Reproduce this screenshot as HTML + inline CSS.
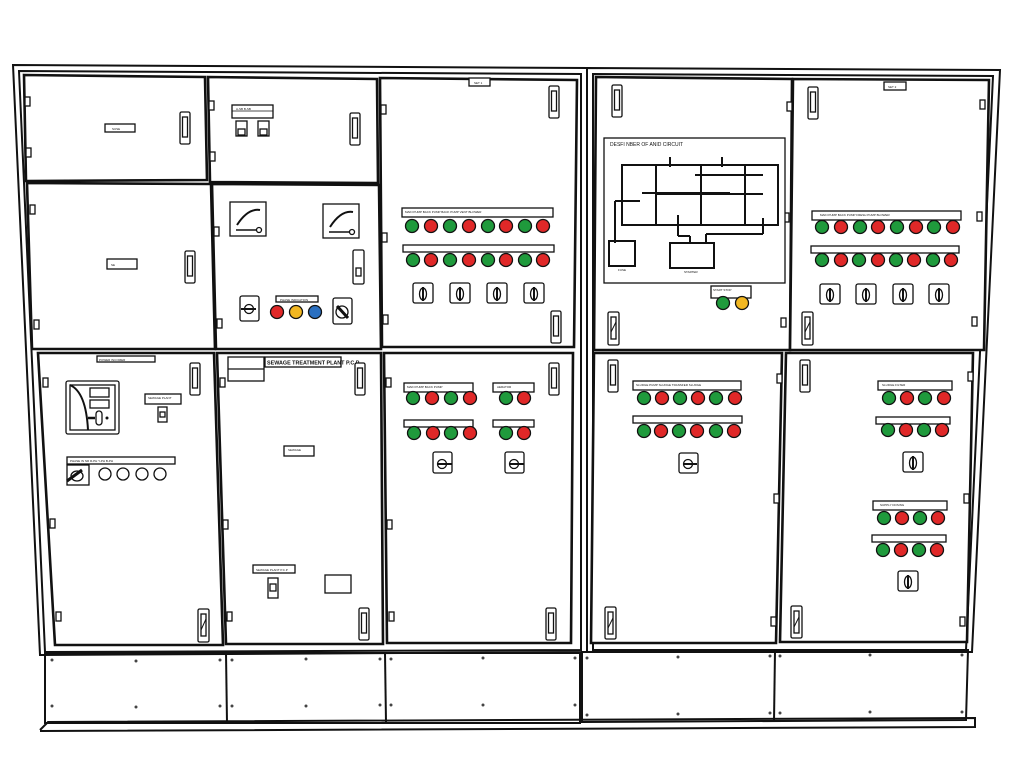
<!DOCTYPE html>
<html><head><meta charset="utf-8"><style>
html,body{margin:0;padding:0;background:#fff}
svg{display:block}
.k{fill:none;stroke:#111;stroke-width:2}
.d{fill:#fff;stroke:#111;stroke-width:2.6}
.t{fill:#fff;stroke:#111;stroke-width:1.3}
.g{fill:#1f9a3c;stroke:#111;stroke-width:1.3}
.r{fill:#e02828;stroke:#111;stroke-width:1.3}
.y{fill:#f2b721;stroke:#111;stroke-width:1.3}
.b{fill:#2a6fc0;stroke:#111;stroke-width:1.3}
.w{fill:#fff;stroke:#111;stroke-width:1.3}
text{font-family:"Liberation Sans",sans-serif;font-size:3px;fill:#111}
</style></head><body>
<svg width="1024" height="765" viewBox="0 0 1024 765" xmlns="http://www.w3.org/2000/svg">
<defs>
<g id="h"><rect x="0" y="0" width="10" height="32" rx="1.5" class="t" stroke-width="1.6"/><rect x="2.5" y="5" width="5" height="20" class="t"/></g>
<g id="sw"><rect x="0" y="0" width="20" height="20" rx="2" class="t" stroke-width="1.6"/><ellipse cx="10" cy="11" rx="3.5" ry="6" class="t" stroke-width="1.6"/><line x1="10" y1="4" x2="10" y2="18" stroke="#111" stroke-width="2"/></g>
<g id="hg"><rect x="0" y="0" width="5" height="9" class="t" stroke-width="1.6"/></g>
</defs>

<polygon points="13,65 587,68 587,652 40,655" class="k" stroke-width="2.2"/>
<polygon points="19,71 581,74 581,650 45,652" class="k" stroke-width="1.4"/>
<polygon points="587,68 1000,70 972,652 587,652" class="k" stroke-width="2.2"/>
<polygon points="593,74 993,76 966,650 593,650" class="k" stroke-width="1.4"/>

<rect x="45" y="653" width="535" height="70" class="k" stroke-width="2"/>
<line x1="226" y1="653" x2="227" y2="723" class="k" stroke-width="1.4"/>
<line x1="385" y1="653" x2="386" y2="723" class="k" stroke-width="1.4"/>
<polygon points="582,652 968,650 966,720 582,722" class="k" stroke-width="2"/>
<line x1="775" y1="651" x2="774" y2="721" class="k" stroke-width="1.4"/>
<polyline points="40,730 48,722 975,718 975,727 40,731" class="k" stroke-width="2"/>
<g fill="#444">
<circle cx="52" cy="706" r="1.5"/><circle cx="136" cy="707" r="1.5"/><circle cx="220" cy="706" r="1.5"/>
<circle cx="232" cy="706" r="1.5"/><circle cx="306" cy="706" r="1.5"/><circle cx="380" cy="705" r="1.5"/>
<circle cx="391" cy="705" r="1.5"/><circle cx="483" cy="705" r="1.5"/><circle cx="575" cy="705" r="1.5"/>
<circle cx="587" cy="715" r="1.5"/><circle cx="678" cy="714" r="1.5"/><circle cx="770" cy="713" r="1.5"/>
<circle cx="780" cy="713" r="1.5"/><circle cx="870" cy="712" r="1.5"/><circle cx="962" cy="712" r="1.5"/>
<circle cx="52" cy="660" r="1.5"/><circle cx="136" cy="661" r="1.5"/><circle cx="220" cy="660" r="1.5"/>
<circle cx="232" cy="660" r="1.5"/><circle cx="306" cy="659" r="1.5"/><circle cx="380" cy="659" r="1.5"/>
<circle cx="391" cy="659" r="1.5"/><circle cx="483" cy="658" r="1.5"/><circle cx="575" cy="658" r="1.5"/>
<circle cx="587" cy="658" r="1.5"/><circle cx="678" cy="657" r="1.5"/><circle cx="770" cy="656" r="1.5"/>
<circle cx="780" cy="656" r="1.5"/><circle cx="870" cy="655" r="1.5"/><circle cx="962" cy="655" r="1.5"/>
</g>

<polygon points="24,75 205,77 207,180 26,181" class="d"/>
<polygon points="208,77 377,79 378,183 210,182" class="d"/>
<polygon points="380,78 577,80 574,347 382,347" class="d"/>
<polygon points="27,183 211,184 215,349 32,349" class="d"/>
<polygon points="212,184 379,185 381,349 216,349" class="d"/>
<polygon points="38,353 214,353 223,645 55,645" class="d"/>
<polygon points="217,353 381,353 383,644 226,644" class="d"/>
<polygon points="384,353 573,353 571,643 387,643" class="d"/>
<polygon points="596,77 792,79 790,350 594,350" class="d"/>
<polygon points="793,79 989,80 984,350 790,350" class="d"/>
<polygon points="594,353 782,353 776,643 591,643" class="d"/>
<polygon points="786,353 973,353 967,642 780,642" class="d"/>

<use href="#hg" x="25" y="97"/><use href="#hg" x="26" y="148"/>
<use href="#hg" x="209" y="101"/><use href="#hg" x="210" y="152"/>
<use href="#hg" x="30" y="205"/><use href="#hg" x="34" y="320"/>
<use href="#hg" x="214" y="227"/><use href="#hg" x="217" y="319"/>
<use href="#hg" x="381" y="105"/><use href="#hg" x="382" y="233"/><use href="#hg" x="383" y="315"/>
<use href="#hg" x="43" y="378"/><use href="#hg" x="50" y="519"/>
<use href="#hg" x="56" y="612"/>
<use href="#hg" x="220" y="378"/><use href="#hg" x="223" y="520"/><use href="#hg" x="227" y="612"/>
<use href="#hg" x="386" y="378"/><use href="#hg" x="387" y="520"/><use href="#hg" x="389" y="612"/>
<use href="#hg" x="787" y="102"/><use href="#hg" x="784" y="213"/><use href="#hg" x="781" y="318"/>
<use href="#hg" x="980" y="100"/><use href="#hg" x="977" y="212"/><use href="#hg" x="972" y="317"/>
<use href="#hg" x="777" y="374"/><use href="#hg" x="774" y="494"/><use href="#hg" x="771" y="617"/>
<use href="#hg" x="968" y="372"/><use href="#hg" x="964" y="494"/><use href="#hg" x="960" y="617"/>

<rect x="105" y="124" width="30" height="8" class="t"/><text x="112" y="130">SUSE</text>
<use href="#h" x="180" y="112"/>
<rect x="232" y="105" width="41" height="13" class="t"/><line x1="232" y1="111" x2="273" y2="111" stroke="#111" stroke-width=".8"/>
<text x="236" y="110">A-SB  B-SB</text>
<rect x="236" y="121" width="11" height="15" class="t"/><rect x="238" y="129" width="7" height="6" class="t"/>
<rect x="258" y="121" width="11" height="15" class="t"/><rect x="260" y="129" width="7" height="6" class="t"/>
<use href="#h" x="350" y="113"/>
<rect x="469" y="78" width="21" height="8" class="t"/><text x="474" y="84">SET 1</text>
<use href="#h" x="549" y="86"/>
<rect x="402" y="208" width="151" height="9" class="t"/>
<text x="405" y="213">MAIN PUMP   BACK PUMP   BACK PUMP   VENT BLOWER</text>
<circle cx="412" cy="226" r="6.5" class="g"/><circle cx="431" cy="226" r="6.5" class="r"/><circle cx="450" cy="226" r="6.5" class="g"/><circle cx="469" cy="226" r="6.5" class="r"/><circle cx="488" cy="226" r="6.5" class="g"/><circle cx="506" cy="226" r="6.5" class="r"/><circle cx="525" cy="226" r="6.5" class="g"/><circle cx="543" cy="226" r="6.5" class="r"/>
<rect x="403" y="245" width="151" height="7" class="t"/>
<circle cx="413" cy="260" r="6.5" class="g"/><circle cx="431" cy="260" r="6.5" class="r"/><circle cx="450" cy="260" r="6.5" class="g"/><circle cx="469" cy="260" r="6.5" class="r"/><circle cx="488" cy="260" r="6.5" class="g"/><circle cx="506" cy="260" r="6.5" class="r"/><circle cx="525" cy="260" r="6.5" class="g"/><circle cx="543" cy="260" r="6.5" class="r"/>
<use href="#sw" x="413" y="283"/><use href="#sw" x="450" y="283"/><use href="#sw" x="487" y="283"/><use href="#sw" x="524" y="283"/>
<use href="#h" x="551" y="311"/>
<rect x="107" y="259" width="30" height="10" class="t"/><text x="111" y="266">SE</text>
<use href="#h" x="185" y="251"/>
<rect x="230" y="202" width="36" height="34" class="t" stroke-width="2"/>
<path d="M237,225 Q248,208 260,210" class="k" stroke-width=".8"/><line x1="236" y1="230" x2="257" y2="230" stroke="#111" stroke-width="1.5"/><circle cx="259" cy="230" r="2.5" class="w"/>
<rect x="323" y="204" width="36" height="34" class="t" stroke-width="2"/>
<path d="M330,227 Q341,210 353,212" class="k" stroke-width=".8"/><line x1="329" y1="232" x2="350" y2="232" stroke="#111" stroke-width="1.5"/><circle cx="352" cy="232" r="2.5" class="w"/>
<rect x="353" y="250" width="11" height="34" rx="1.5" class="t" stroke-width="1.6"/><rect x="356" y="268" width="5" height="8" class="t"/>
<rect x="240" y="296" width="19" height="25" rx="2" class="t" stroke-width="1.6"/><circle cx="249" cy="309" r="4.5" class="t" stroke-width="1.6"/><line x1="241" y1="309" x2="256" y2="309" stroke="#111" stroke-width="2"/>
<rect x="276" y="296" width="42" height="6" class="t"/><text x="280" y="301">PHASE INDICATION</text>
<circle cx="277" cy="312" r="6.5" class="r"/><circle cx="296" cy="312" r="6.5" class="y"/><circle cx="315" cy="312" r="6.5" class="b"/>
<rect x="333" y="298" width="19" height="26" rx="2" class="t" stroke-width="1.6"/><circle cx="342" cy="312" r="6" class="t"/><line x1="337" y1="306" x2="348" y2="318" stroke="#111" stroke-width="3"/>
<rect x="97" y="356" width="58" height="6" class="t"/><text x="99" y="361">POWER INCOMER</text>
<rect x="66" y="381" width="53" height="53" rx="2" class="t" stroke-width="2"/><rect x="70" y="385" width="45" height="45" class="t"/>
<path d="M70,385 Q86,392 88,430" class="k" stroke-width="1.3"/>
<rect x="90" y="388" width="19" height="9" class="t"/><rect x="90" y="400" width="19" height="8" class="t"/>
<rect x="96" y="411" width="6" height="14" rx="3" class="t" stroke-width="1.5"/><line x1="88" y1="418" x2="95" y2="418" stroke="#111" stroke-width="2.5"/><circle cx="107" cy="418" r="1.5" fill="#111"/>
<rect x="145" y="394" width="36" height="10" class="t"/><text x="148" y="399">SEWAGE PLANT</text>
<rect x="158" y="407" width="9" height="15" class="t"/><rect x="160" y="412" width="5" height="5" class="t"/>
<use href="#h" x="190" y="363"/>
<rect x="67" y="457" width="108" height="7" class="t"/><text x="70" y="462">PHASE IN  NR    R-PH    Y-PH    B-PH</text>
<rect x="67" y="465" width="22" height="20" class="t"/><ellipse cx="77" cy="476" rx="6" ry="5" class="t" stroke-width="1.6"/><line x1="67" y1="481" x2="82" y2="470" stroke="#111" stroke-width="3"/>
<circle cx="105" cy="474" r="6" class="w"/><circle cx="123" cy="474" r="6" class="w"/><circle cx="142" cy="474" r="6" class="w"/><circle cx="160" cy="474" r="6" class="w"/>
<rect x="198" y="609" width="11" height="33" rx="1.5" class="t" stroke-width="1.6"/><rect x="201" y="614" width="5" height="22" class="t"/><line x1="201" y1="630" x2="206" y2="619" stroke="#111"/>
<rect x="228" y="357" width="36" height="24" class="t"/><line x1="228" y1="369" x2="264" y2="369" stroke="#111" stroke-width="1.2"/>
<rect x="265" y="357" width="76" height="10" class="t"/><text x="267" y="364.5" style="font-size:5.4px;font-weight:bold">SEWAGE TREATMENT PLANT P.C.P.</text>
<rect x="284" y="446" width="30" height="10" class="t"/><text x="288" y="451">SEWAGE</text>
<rect x="253" y="565" width="42" height="8" class="t"/><text x="256" y="571">SEWAGE PLANT P.C.P</text>
<rect x="268" y="578" width="10" height="20" class="t"/><rect x="270" y="584" width="6" height="7" class="t"/>
<rect x="325" y="575" width="26" height="18" class="t"/>
<use href="#h" x="355" y="363"/><use href="#h" x="359" y="608"/>
<rect x="404" y="383" width="69" height="9" class="t"/><text x="407" y="388">MAIN PUMP   BACK PUMP</text>
<circle cx="413" cy="398" r="6.5" class="g"/><circle cx="432" cy="398" r="6.5" class="r"/><circle cx="451" cy="398" r="6.5" class="g"/><circle cx="470" cy="398" r="6.5" class="r"/>
<rect x="493" y="383" width="41" height="9" class="t"/><text x="497" y="388">AERATOR</text>
<circle cx="506" cy="398" r="6.5" class="g"/><circle cx="524" cy="398" r="6.5" class="r"/>
<rect x="404" y="420" width="69" height="7" class="t"/>
<circle cx="414" cy="433" r="6.5" class="g"/><circle cx="433" cy="433" r="6.5" class="r"/><circle cx="451" cy="433" r="6.5" class="g"/><circle cx="470" cy="433" r="6.5" class="r"/>
<rect x="493" y="420" width="41" height="7" class="t"/>
<circle cx="506" cy="433" r="6.5" class="g"/><circle cx="524" cy="433" r="6.5" class="r"/>
<rect x="433" y="452" width="19" height="21" rx="2" class="t" stroke-width="1.6"/><circle cx="442" cy="464" r="4.5" class="t" stroke-width="1.5"/><line x1="437" y1="464" x2="452" y2="464" stroke="#111" stroke-width="2"/>
<rect x="505" y="452" width="19" height="21" rx="2" class="t" stroke-width="1.6"/><circle cx="514" cy="464" r="4.5" class="t" stroke-width="1.5"/><line x1="509" y1="464" x2="524" y2="464" stroke="#111" stroke-width="2"/>
<use href="#h" x="549" y="363"/><use href="#h" x="546" y="608"/>

<use href="#h" x="612" y="85"/>
<rect x="604" y="138" width="181" height="145" class="t" stroke-width="1.5"/>
<text x="610" y="146" style="font-size:5px">DESFI NBER OF ANID CIRCUIT</text>
<g class="k" stroke-width="0.9">
<rect x="622" y="165" width="156" height="60"/>
<line x1="656" y1="165" x2="656" y2="225"/><line x1="701" y1="165" x2="701" y2="225"/><line x1="745" y1="165" x2="745" y2="225"/>
<line x1="656" y1="194" x2="763" y2="194"/><line x1="642" y1="193" x2="730" y2="193"/>
<line x1="695" y1="175" x2="763" y2="175"/><line x1="670" y1="157" x2="670" y2="167"/><line x1="722" y1="157" x2="722" y2="167"/>
<line x1="678" y1="215" x2="678" y2="236"/><line x1="678" y1="236" x2="690" y2="236"/><line x1="690" y1="236" x2="690" y2="243"/>
<line x1="763" y1="218" x2="763" y2="234"/><line x1="763" y1="234" x2="706" y2="234"/><line x1="706" y1="234" x2="706" y2="243"/>
<line x1="615" y1="201" x2="640" y2="201"/><line x1="615" y1="201" x2="615" y2="243"/>
<rect x="609" y="241" width="26" height="25"/><rect x="670" y="243" width="44" height="25"/>
</g>
<text x="618" y="271">FUSE</text><text x="684" y="273">STARTER</text>
<rect x="711" y="286" width="40" height="12" class="t"/><text x="713" y="291">START  STOP</text>
<circle cx="723" cy="303" r="6.5" class="g"/><circle cx="742" cy="303" r="6.5" class="y"/>
<rect x="608" y="312" width="11" height="33" rx="1.5" class="t" stroke-width="1.6"/><rect x="611" y="317" width="5" height="22" class="t"/><line x1="611" y1="332" x2="616" y2="322" stroke="#111"/>
<rect x="884" y="82" width="22" height="8" class="t"/><text x="888" y="88">SET 2</text>
<use href="#h" x="808" y="87"/>
<rect x="812" y="211" width="149" height="9" class="t"/><text x="820" y="216">MAIN PUMP   BACK PUMP   FRESH PUMP   BLOWER</text>
<circle cx="822" cy="227" r="6.5" class="g"/><circle cx="841" cy="227" r="6.5" class="r"/><circle cx="860" cy="227" r="6.5" class="g"/><circle cx="878" cy="227" r="6.5" class="r"/><circle cx="897" cy="227" r="6.5" class="g"/><circle cx="916" cy="227" r="6.5" class="r"/><circle cx="934" cy="227" r="6.5" class="g"/><circle cx="953" cy="227" r="6.5" class="r"/>
<rect x="811" y="246" width="148" height="7" class="t"/>
<circle cx="822" cy="260" r="6.5" class="g"/><circle cx="841" cy="260" r="6.5" class="r"/><circle cx="859" cy="260" r="6.5" class="g"/><circle cx="878" cy="260" r="6.5" class="r"/><circle cx="896" cy="260" r="6.5" class="g"/><circle cx="914" cy="260" r="6.5" class="r"/><circle cx="933" cy="260" r="6.5" class="g"/><circle cx="951" cy="260" r="6.5" class="r"/>
<use href="#sw" x="820" y="284"/><use href="#sw" x="856" y="284"/><use href="#sw" x="893" y="284"/><use href="#sw" x="929" y="284"/>
<rect x="802" y="312" width="11" height="33" rx="1.5" class="t" stroke-width="1.6"/><rect x="805" y="317" width="5" height="22" class="t"/><line x1="805" y1="332" x2="810" y2="322" stroke="#111"/>
<use href="#h" x="608" y="360"/>
<rect x="633" y="381" width="108" height="9" class="t"/><text x="636" y="386">SLUDGE PUMP   SLUDGE TRANSFER   SLUDGE</text>
<circle cx="644" cy="398" r="6.5" class="g"/><circle cx="662" cy="398" r="6.5" class="r"/><circle cx="680" cy="398" r="6.5" class="g"/><circle cx="698" cy="398" r="6.5" class="r"/><circle cx="716" cy="398" r="6.5" class="g"/><circle cx="735" cy="398" r="6.5" class="r"/>
<rect x="633" y="416" width="109" height="7" class="t"/>
<circle cx="644" cy="431" r="6.5" class="g"/><circle cx="661" cy="431" r="6.5" class="r"/><circle cx="679" cy="431" r="6.5" class="g"/><circle cx="697" cy="431" r="6.5" class="r"/><circle cx="716" cy="431" r="6.5" class="g"/><circle cx="734" cy="431" r="6.5" class="r"/>
<rect x="679" y="453" width="19" height="20" rx="2" class="t" stroke-width="1.6"/><circle cx="688" cy="464" r="4.5" class="t" stroke-width="1.5"/><line x1="683" y1="464" x2="697" y2="464" stroke="#111" stroke-width="2"/>
<rect x="605" y="607" width="11" height="32" rx="1.5" class="t" stroke-width="1.6"/><rect x="608" y="612" width="5" height="22" class="t"/><line x1="608" y1="628" x2="613" y2="618" stroke="#111"/>
<use href="#h" x="800" y="360"/>
<rect x="878" y="381" width="74" height="9" class="t"/><text x="882" y="386">SLUDGE   FILTER</text>
<circle cx="889" cy="398" r="6.5" class="g"/><circle cx="907" cy="398" r="6.5" class="r"/><circle cx="925" cy="398" r="6.5" class="g"/><circle cx="944" cy="398" r="6.5" class="r"/>
<rect x="876" y="417" width="74" height="7" class="t"/>
<circle cx="888" cy="430" r="6.5" class="g"/><circle cx="906" cy="430" r="6.5" class="r"/><circle cx="924" cy="430" r="6.5" class="g"/><circle cx="942" cy="430" r="6.5" class="r"/>
<use href="#sw" x="903" y="452"/>
<rect x="873" y="501" width="74" height="9" class="t"/><text x="880" y="506">SUPPLY    DOSING</text>
<circle cx="884" cy="518" r="6.5" class="g"/><circle cx="902" cy="518" r="6.5" class="r"/><circle cx="920" cy="518" r="6.5" class="g"/><circle cx="938" cy="518" r="6.5" class="r"/>
<rect x="872" y="535" width="74" height="7" class="t"/>
<circle cx="883" cy="550" r="6.5" class="g"/><circle cx="901" cy="550" r="6.5" class="r"/><circle cx="919" cy="550" r="6.5" class="g"/><circle cx="937" cy="550" r="6.5" class="r"/>
<use href="#sw" x="898" y="571"/>
<rect x="791" y="606" width="11" height="32" rx="1.5" class="t" stroke-width="1.6"/><rect x="794" y="611" width="5" height="22" class="t"/><line x1="794" y1="627" x2="799" y2="617" stroke="#111"/>
</svg>
</body></html>
